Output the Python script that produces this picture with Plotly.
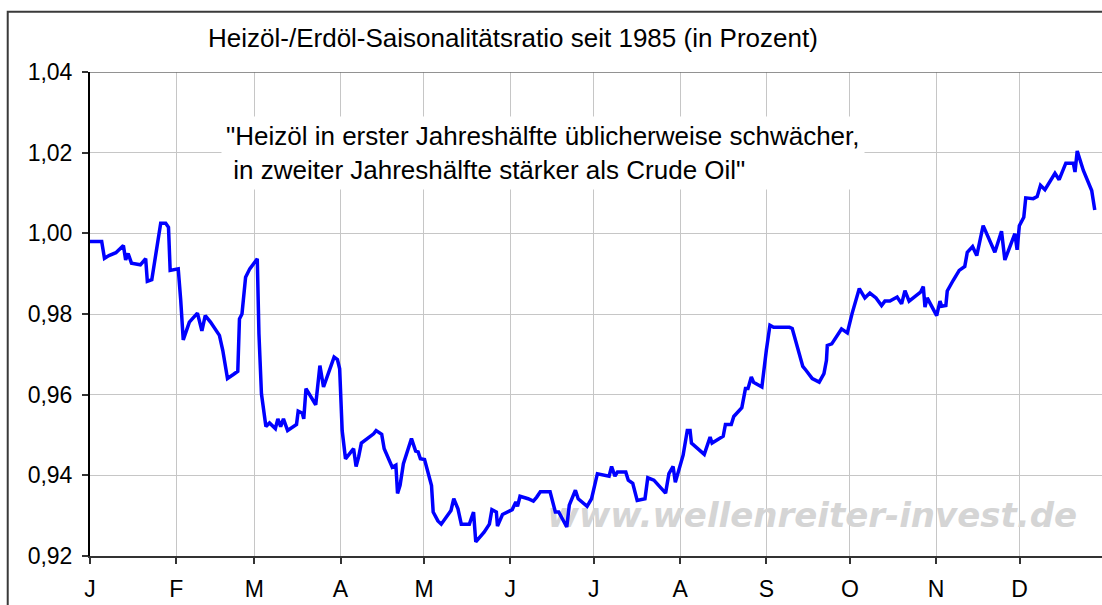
import plotly.graph_objects as go

# ---- data ----
day_of_year = [0, 4.2, 5.2, 6.8, 9.3, 12.0, 12.8, 13.7, 14.9, 18.1, 20.0, 20.6, 22.2, 25.4, 27.2, 28.2, 28.8,
               31.7, 32.6, 33.5, 35.7, 38.6, 40.2, 41.4, 43.3, 46.5, 47.7, 49.4, 51.5, 53.1, 53.7, 54.6, 55.9,
               57.4, 60.1, 60.7, 61.6, 63.2, 64.5, 66.6, 67.5, 68.5, 69.5, 71.0, 74.2, 74.8, 76.3, 76.8, 77.6,
               81.1, 82.6, 83.9, 87.7, 88.9, 89.7, 90.6, 91.8, 94.7, 95.6, 96.5, 97.5, 101.9, 102.8, 104.8,
               105.7, 108.6, 109.9, 110.5, 111.4, 112.6, 115.5, 117.0, 117.9, 118.7, 120.2, 122.7, 123.3,
               125.0, 126.2, 129.7, 130.7, 132.2, 133.4, 136.3, 137.8, 138.6, 141.6, 143.5, 144.4, 146.0,
               146.4, 148.2, 151.7, 153.0, 153.6, 154.5, 157.4, 159.3, 160.5, 161.8, 165.3, 167.2, 168.4,
               171.3, 172.2, 174.4, 175.4, 178.6, 180.2, 182.3, 186.5, 187.4, 188.6, 189.5, 192.5, 193.4,
               195.0, 196.6, 199.4, 200.4, 202.6, 206.8, 208.0, 209.5, 210.3, 213.1, 214.6, 215.6, 216.1,
               220.7, 222.8, 223.5, 227.5, 228.3, 230.4, 231.3, 234.2, 235.5, 236.4, 237.6, 238.4, 241.4,
               243.0, 244.3, 245.6, 251.3, 252.3, 256.1, 257.3, 259.5, 262.0, 263.7, 264.6, 264.9, 266.5,
               270.0, 272.1, 273.8, 276.4, 278.4, 280.2, 282.4, 284.4, 285.6, 287.4, 290.0, 291.6, 292.8,
               294.3, 296.7, 298.4, 299.4, 300.0, 300.8, 304.2, 305.4, 306.0, 307.5, 308.0, 310.1, 312.3,
               314.3, 315.2, 317.1, 318.6, 320.9, 325.1, 327.5, 328.7, 332.3, 333.1, 333.9, 335.5, 336.2,
               338.9, 340.3, 341.5, 343.1, 346.7, 348.2, 350.6, 353.3, 353.9, 354.7, 356.9, 359.9, 361.0]

ratio = [0.998, 0.998, 0.9938, 0.9945, 0.9952, 0.997, 0.9934, 0.995, 0.9926, 0.9922, 0.9937, 0.9881, 0.9885,
         1.0025, 1.0025, 1.0015, 0.9908, 0.9912, 0.9834, 0.9736, 0.978, 0.9802, 0.9758, 0.9796, 0.978,
         0.9747, 0.971, 0.964, 0.965, 0.9658, 0.9788, 0.980, 0.9891, 0.9912, 0.9937, 0.9751, 0.9602,
         0.9521, 0.953, 0.9516, 0.954, 0.9521, 0.954, 0.9511, 0.9526, 0.9559, 0.9554, 0.954, 0.9615,
         0.9575, 0.9672, 0.9619, 0.9693, 0.9687, 0.9664, 0.9511, 0.9441, 0.9466, 0.9422, 0.9445, 0.948,
         0.9503, 0.9511, 0.9502, 0.9466, 0.942, 0.9425, 0.9355, 0.9375, 0.9429, 0.9491, 0.946, 0.9458,
         0.9441, 0.9439, 0.9375, 0.9309, 0.9287, 0.9279, 0.9313, 0.9342, 0.9317, 0.9279, 0.9279, 0.9309,
         0.9235, 0.9259, 0.9279, 0.9315, 0.9309, 0.9274, 0.9303, 0.9315, 0.9334, 0.9323, 0.9348, 0.9342,
         0.9336, 0.9346, 0.9359, 0.9359, 0.9309, 0.9309, 0.9272, 0.9326, 0.9363, 0.9342, 0.9323, 0.9342,
         0.9404, 0.9398, 0.9422, 0.9398, 0.9408, 0.9408, 0.9388, 0.938, 0.9338, 0.9342, 0.9394, 0.9388,
         0.9356, 0.9404, 0.9422, 0.9383, 0.945, 0.9511, 0.9511, 0.948, 0.9452, 0.9495, 0.948, 0.9497,
         0.9526, 0.9526, 0.9546, 0.9568, 0.9615, 0.9615, 0.9644, 0.9631, 0.9619, 0.971, 0.9772, 0.9767,
         0.9767, 0.9764, 0.967, 0.966, 0.964, 0.9631, 0.9652, 0.9685, 0.9722, 0.9726, 0.9763, 0.9753,
         0.9801, 0.9863, 0.984, 0.9852, 0.984, 0.9821, 0.9832, 0.9832, 0.9842, 0.9825, 0.9858, 0.9832,
         0.9846, 0.9854, 0.9868, 0.9817, 0.984, 0.9796, 0.9832, 0.9819, 0.9821, 0.9857, 0.9883, 0.9908,
         0.9918, 0.9953, 0.9967, 0.9945, 1.0019, 0.9953, 1.0005, 0.9934, 0.9999, 0.9959, 1.0019, 1.004,
         1.0088, 1.0086, 1.0091, 1.0119, 1.0108, 1.0149, 1.0133, 1.0174, 1.0174, 1.0152, 1.0204, 1.0156,
         1.0106, 1.0058]

month_start_days = [0, 31, 59, 90, 120, 151, 181, 212, 243, 273, 304, 334]
month_labels = ["J", "F", "M", "A", "M", "J", "J", "A", "S", "O", "N", "D"]
y_tick_values = [0.92, 0.94, 0.96, 0.98, 1.00, 1.02, 1.04]
y_tick_labels = ["0,92", "0,94", "0,96", "0,98", "1,00", "1,02", "1,04"]

title_text = "Heizöl-/Erdöl-Saisonalitätsratio seit 1985 (in Prozent)"
note_text = ("\"Heizöl in erster Jahreshälfte üblicherweise schwächer,<br>"
             " in zweiter Jahreshälfte stärker als Crude Oil\"")
watermark_text = "www.wellenreiter-invest.de"

FONT = "Arial, Liberation Sans, sans-serif"

fig = go.Figure()

# watermark below the line
fig.add_trace(go.Scatter(
    x=[259.5], y=[0.9292], mode="text", text=[watermark_text],
    textfont=dict(family="DejaVu Sans, Verdana, sans-serif", size=34, color="#d5d5d5",
                  style="italic", weight="bold"),
    hoverinfo="skip", showlegend=False,
))

fig.add_trace(go.Scatter(
    x=day_of_year, y=ratio, mode="lines",
    line=dict(color="#0000ff", width=3.5),
    showlegend=False,
))

fig.update_layout(
    width=1102, height=605,
    margin=dict(l=90, r=0, t=72, b=49),
    paper_bgcolor="white", plot_bgcolor="white",
    font=dict(family=FONT, color="black"),
    title=dict(text=title_text, font=dict(family=FONT, size=26, color="black"),
               x=0.4655, xref="container", xanchor="center",
               y=1 - 38 / 605, yref="container", yanchor="middle"),
    xaxis=dict(range=[0, 363.6], tickmode="array", tickvals=month_start_days, ticktext=month_labels,
               showgrid=True, gridcolor="#c6c6c6", gridwidth=1,
               showline=True, linecolor="#333333", linewidth=2,
               ticks="outside", ticklen=6, tickcolor="#333333", tickwidth=1.5,
               ticklabelstandoff=5,
               tickfont=dict(family=FONT, size=23, color="black"),
               zeroline=False, fixedrange=True),
    yaxis=dict(range=[0.92, 1.04], tickmode="array", tickvals=y_tick_values, ticktext=y_tick_labels,
               showgrid=True, gridcolor="#c6c6c6", gridwidth=1,
               showline=True, linecolor="black", linewidth=2,
               ticks="outside", ticklen=6, tickcolor="#333333", tickwidth=1.5,
               ticklabelstandoff=5,
               tickfont=dict(family=FONT, size=23, color="black"),
               zeroline=False, fixedrange=True),
)

# darker top border of plot area
fig.add_shape(type="line", xref="paper", yref="y", x0=0, x1=1, y0=1.04, y1=1.04,
              line=dict(color="#6e6e6e", width=1.5))

# outer chart frame
fig.add_shape(type="rect", xref="paper", yref="paper",
              x0=-0.0813, x1=1.05, y0=-0.3, y1=1.1246,
              line=dict(color="#3a3a3a", width=2), fillcolor="rgba(0,0,0,0)")

# note with white background
fig.add_annotation(
    text=note_text, xref="x", yref="paper", x=47.0, xanchor="left",
    y=1 - (153 - 72) / 484, yanchor="middle", align="left", showarrow=False,
    font=dict(family=FONT, size=26, color="black"),
    bgcolor="white", borderpad=4,
)

fig.write_html(
    "out.html",
    config={"displayModeBar": False},
    post_script="document.body.style.margin='0';document.body.style.overflow='hidden';",
)
